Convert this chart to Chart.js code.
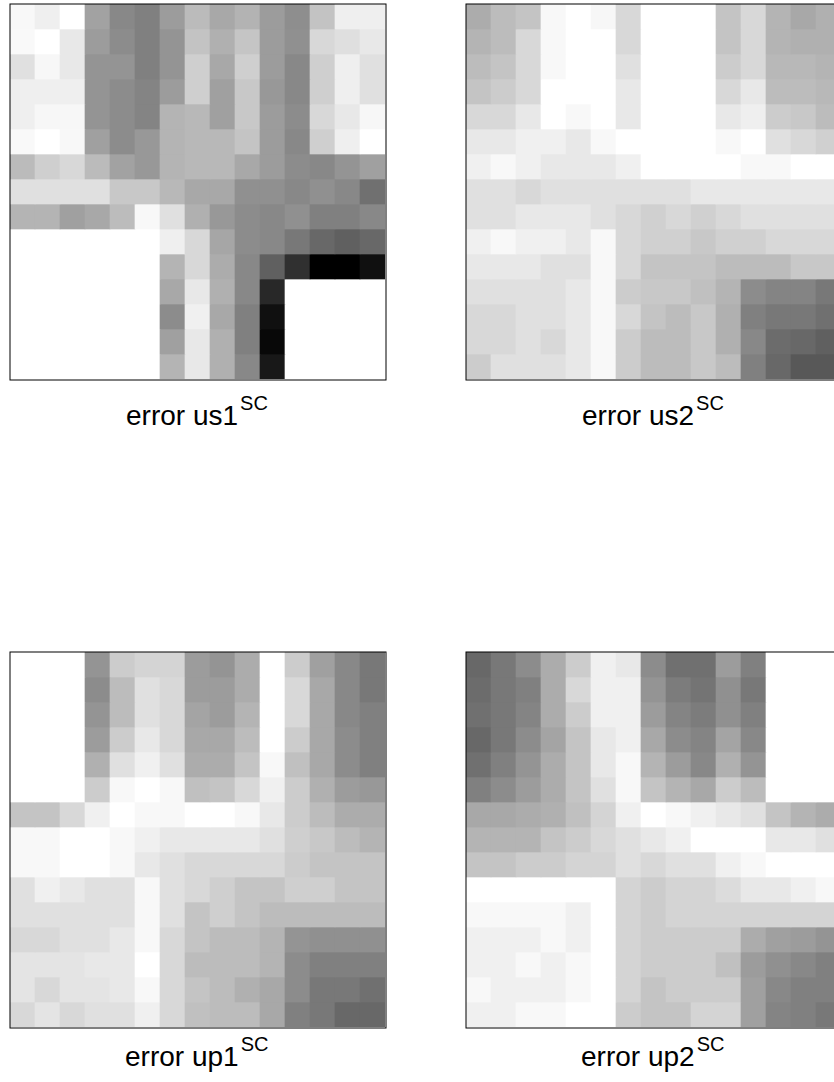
<!DOCTYPE html>
<html>
<head>
<meta charset="utf-8">
<title>error maps</title>
<script src="https://cdn.jsdelivr.net/npm/chart.js@4"></script>
<style>
html, body { margin: 0; padding: 0; background: #fff; }
body { position: relative; width: 834px; height: 1082px; overflow: hidden; font-family: "Liberation Sans", Arial, sans-serif; }
canvas { position: absolute; }
.label { position: absolute; font-size: 28px; line-height: 32px; white-space: nowrap; color: #000; }
.label sup { font-size: 20px; line-height: 0; position: relative; top: -1px; vertical-align: 14px; margin-left: 2px; }
</style>
</head>
<body>
<canvas id="us1" width="379" height="379" style="left:9px;top:3px"></canvas>
<canvas id="us2" width="379" height="379" style="left:465px;top:3px"></canvas>
<canvas id="up1" width="379" height="379" style="left:9px;top:651px"></canvas>
<canvas id="up2" width="379" height="379" style="left:465px;top:651px"></canvas>
<div class="label" style="left:126px;top:400px">error us1<sup>SC</sup></div>
<div class="label" style="left:582px;top:400px">error us2<sup>SC</sup></div>
<div class="label" style="left:125px;top:1041px">error up1<sup>SC</sup></div>
<div class="label" style="left:581px;top:1041px">error up2<sup>SC</sup></div>
<script>
// 15 columns per map, values are error level (0 = white, 255 = black)
const columns = ['1', '2', '3', '4', '5', '6', '7', '8', '9', '10', '11', '12', '13', '14', '15'];

const us1 = [
    [7, 16, 0, 93, 119, 127, 99, 68, 87, 76, 99, 113, 60, 16, 16],
    [6, 0, 23, 99, 115, 127, 107, 60, 79, 58, 99, 111, 39, 32, 23],
    [31, 8, 23, 107, 107, 127, 107, 48, 87, 48, 99, 119, 48, 16, 31],
    [16, 16, 16, 107, 115, 123, 99, 48, 95, 55, 103, 119, 48, 16, 31],
    [16, 8, 8, 107, 115, 123, 75, 71, 95, 55, 99, 115, 39, 23, 8],
    [6, 0, 7, 95, 115, 103, 75, 71, 71, 59, 99, 119, 48, 16, 0],
    [68, 48, 39, 68, 93, 103, 75, 71, 71, 87, 99, 115, 119, 107, 95],
    [31, 31, 31, 31, 55, 55, 71, 87, 87, 111, 111, 119, 111, 119, 143],
    [75, 75, 95, 87, 67, 7, 31, 79, 103, 115, 119, 111, 127, 127, 119],
    [0, 0, 0, 0, 0, 0, 16, 39, 89, 115, 119, 135, 151, 159, 151],
    [0, 0, 0, 0, 0, 0, 75, 39, 83, 119, 159, 207, 255, 255, 239],
    [0, 0, 0, 0, 0, 0, 87, 23, 79, 119, 215, 0, 0, 0, 0],
    [0, 0, 0, 0, 0, 0, 115, 15, 87, 127, 239, 0, 0, 0, 0],
    [0, 0, 0, 0, 0, 0, 95, 23, 79, 127, 247, 0, 0, 0, 0],
    [0, 0, 0, 0, 0, 0, 75, 23, 79, 119, 231, 0, 0, 0, 0]
];

const us2 = [
    [83, 67, 59, 7, 0, 8, 39, 0, 0, 0, 59, 39, 75, 87, 79],
    [75, 67, 39, 7, 0, 0, 39, 0, 0, 0, 59, 39, 75, 79, 79],
    [67, 59, 39, 7, 0, 0, 31, 0, 0, 0, 51, 39, 71, 71, 75],
    [59, 51, 39, 0, 0, 0, 23, 0, 0, 0, 39, 23, 67, 67, 71],
    [39, 39, 23, 0, 7, 0, 23, 0, 0, 0, 23, 16, 51, 55, 67],
    [23, 23, 15, 15, 23, 7, 0, 0, 0, 0, 7, 0, 31, 39, 47],
    [15, 7, 15, 23, 23, 23, 15, 0, 0, 0, 0, 7, 7, 0, 0],
    [31, 31, 39, 31, 31, 31, 31, 31, 31, 23, 23, 23, 23, 23, 23],
    [31, 31, 23, 23, 23, 31, 39, 47, 39, 47, 39, 31, 31, 31, 31],
    [15, 7, 15, 15, 23, 7, 39, 47, 47, 55, 47, 47, 39, 39, 39],
    [23, 23, 23, 31, 31, 7, 39, 59, 59, 59, 67, 67, 67, 55, 55],
    [31, 31, 31, 31, 23, 7, 51, 55, 55, 63, 75, 115, 123, 123, 135],
    [39, 39, 31, 31, 23, 7, 39, 59, 67, 55, 79, 127, 135, 135, 143],
    [39, 39, 31, 39, 23, 7, 51, 67, 67, 55, 79, 119, 147, 151, 159],
    [51, 31, 31, 31, 23, 7, 51, 67, 67, 55, 67, 127, 151, 167, 167]
];

const up1 = [
    [0, 0, 0, 107, 51, 43, 43, 99, 107, 83, 0, 51, 95, 119, 135],
    [0, 0, 0, 115, 67, 31, 39, 99, 99, 83, 0, 39, 87, 119, 135],
    [0, 0, 0, 107, 67, 31, 39, 91, 99, 75, 0, 39, 87, 119, 127],
    [0, 0, 0, 99, 51, 23, 39, 87, 87, 67, 0, 51, 87, 115, 127],
    [0, 0, 0, 79, 31, 15, 31, 83, 83, 59, 7, 63, 87, 115, 127],
    [0, 0, 0, 51, 7, 0, 7, 63, 59, 39, 15, 51, 79, 99, 103],
    [59, 59, 39, 15, 0, 7, 7, 0, 0, 7, 23, 51, 67, 83, 83],
    [7, 7, 0, 0, 7, 15, 23, 23, 23, 23, 31, 48, 55, 67, 75],
    [7, 7, 0, 0, 7, 23, 31, 39, 39, 39, 39, 51, 59, 59, 59],
    [31, 15, 23, 31, 31, 7, 31, 39, 48, 59, 59, 48, 48, 59, 59],
    [31, 31, 31, 31, 31, 7, 31, 59, 48, 59, 67, 67, 67, 67, 67],
    [39, 39, 31, 31, 23, 7, 39, 59, 67, 67, 75, 107, 111, 111, 111],
    [27, 27, 27, 23, 23, 0, 39, 67, 67, 67, 75, 115, 127, 127, 127],
    [27, 39, 27, 27, 23, 7, 39, 59, 67, 79, 87, 115, 135, 135, 143],
    [39, 27, 39, 31, 31, 15, 39, 63, 67, 67, 87, 127, 135, 151, 151]
];

const up2 = [
    [151, 135, 115, 83, 51, 15, 23, 115, 143, 143, 99, 127, 0, 0, 0],
    [147, 135, 127, 83, 39, 15, 15, 107, 131, 139, 111, 135, 0, 0, 0],
    [143, 135, 123, 83, 51, 15, 15, 99, 123, 131, 111, 127, 0, 0, 0],
    [151, 135, 115, 91, 59, 23, 15, 87, 115, 123, 91, 119, 0, 0, 0],
    [143, 127, 107, 83, 59, 23, 7, 75, 99, 119, 79, 107, 0, 0, 0],
    [127, 115, 99, 83, 59, 31, 7, 59, 75, 87, 51, 67, 0, 0, 0],
    [87, 87, 83, 79, 63, 43, 15, 0, 7, 15, 23, 31, 59, 75, 83],
    [75, 75, 75, 59, 51, 39, 31, 23, 15, 0, 0, 0, 23, 23, 31],
    [59, 59, 51, 51, 43, 43, 31, 39, 31, 31, 15, 7, 0, 0, 0],
    [0, 0, 0, 0, 0, 0, 43, 51, 43, 43, 35, 23, 23, 15, 7],
    [7, 7, 7, 7, 15, 0, 43, 51, 43, 43, 43, 43, 43, 43, 43],
    [15, 15, 15, 7, 15, 0, 43, 51, 51, 51, 51, 83, 95, 99, 107],
    [15, 15, 7, 15, 7, 0, 43, 51, 51, 51, 63, 99, 111, 119, 127],
    [7, 15, 15, 15, 7, 0, 43, 59, 51, 51, 51, 95, 119, 127, 127],
    [15, 15, 7, 7, 0, 0, 51, 59, 59, 43, 43, 95, 123, 127, 135]
];

const levelToGrey = (level) => {
    const v = 255 - level;
    return `rgb(${v},${v},${v})`;
}

// box around the plot, same half-pixel look as the original
const frame = {
    id: 'frame',
    afterDatasetsDraw(c) {
        const { ctx, chartArea } = c;
        ctx.save();
        ctx.strokeStyle = '#000';
        ctx.lineWidth = 1;
        ctx.strokeRect(chartArea.left, chartArea.top, chartArea.width + 1, chartArea.height + 1);
        ctx.restore();
    }
};

function drawMap(id, rows) {
    new Chart(document.querySelector('#' + id), {
        type: 'bar',
        data: {
            labels: columns,
            datasets: rows.map((row) => ({
                data: row.map(() => 1),
                backgroundColor: row.map(levelToGrey),
                borderWidth: 0,
                barPercentage: 1,
                categoryPercentage: 1
            }))
        },
        options: {
            responsive: false,
            animation: false,
            layout: { padding: { left: 1, top: 1, right: 3, bottom: 3 } },
            plugins: { legend: { display: false }, tooltip: { enabled: false } },
            scales: {
                x: { display: false, stacked: true },
                y: { display: false, stacked: true, reverse: true, min: 0, max: rows.length }
            }
        },
        plugins: [frame]
    });
}

drawMap('us1', us1);
drawMap('us2', us2);
drawMap('up1', up1);
drawMap('up2', up2);
</script>
</body>
</html>
